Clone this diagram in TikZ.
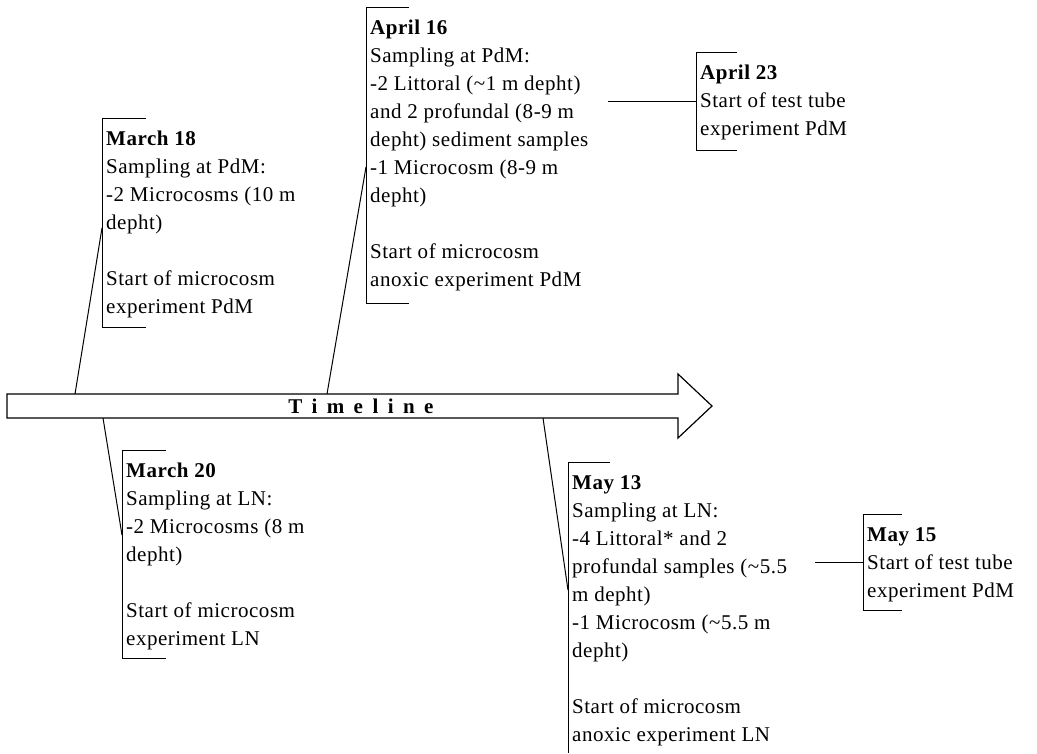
\documentclass[tikz,border=0pt]{standalone}
\usepackage{fontspec}
\setmainfont{Liberation Serif}[LetterSpace=2.5]
\newfontfamily\spacedfont[LetterSpace=45]{Liberation Serif}
\begin{document}
\begin{tikzpicture}[x=1pt,y=-1pt,
	entry/.style={anchor=north west,align=left,inner sep=0pt,font=\fontsize{21}{28}\selectfont},
	bracket/.style={black,line width=1pt}]
	\useasboundingbox (0,0) rectangle (1037,753);
	% the timeline arrow
	\draw[black,line width=1.2pt,fill=white](7,394)--(678,394)--(678,374)--(712,406)--(678,438)--(678,418)--(7,418)--cycle;
	\node[font=\spacedfont\bfseries\fontsize{21}{26}\selectfont](tl) at (361,406){Timeline};
	% March 18
	\draw[bracket](146,118)--(102,118)--(102,327)--(146,327);
	\node[entry](m18) at (106,131){\textbf{March 18}\\Sampling at PdM:\\-2 Microcosms (10 m\\depht)\\[28pt]Start of microcosm\\experiment PdM};
	\coordinate(m18a) at (75,394);
	\coordinate(m18b) at (102,228);
	\draw[bracket](m18a)--(m18b);
	% April 16
	\draw[bracket](409,7)--(366,7)--(366,303)--(409,303);
	\node[entry](a16) at (370,20){\textbf{April 16}\\Sampling at PdM:\\-2 Littoral (\textasciitilde1 m depht)\\and 2 profundal (8-9 m\\depht) sediment samples\\-1 Microcosm (8-9 m\\depht)\\[28pt]Start of microcosm\\anoxic experiment PdM};
	\coordinate(a16a) at (327,394);
	\coordinate(a16b) at (366,167);
	\draw[bracket](a16a)--(a16b);
	% April 23
	\draw[bracket](737,52)--(696,52)--(696,150)--(737,150);
	\node[entry](a23) at (700,65){\textbf{April 23}\\Start of test tube\\experiment PdM};
	\coordinate(a23a) at (608,101);
	\coordinate(a23b) at (696,101);
	\draw[bracket](a23a)--(a23b);
	% March 20
	\draw[bracket](166,450)--(122,450)--(122,658)--(166,658);
	\node[entry](m20) at (126,463){\textbf{March 20}\\Sampling at LN:\\-2 Microcosms (8 m\\depht)\\[28pt]Start of microcosm\\experiment LN};
	\coordinate(m20a) at (103,418);
	\coordinate(m20b) at (122,535);
	\draw[bracket](m20a)--(m20b);
	% May 13
	\draw[bracket](610,462)--(568,462)--(568,753);
	\node[entry](y13) at (572,475){\textbf{May 13}\\Sampling at LN:\\-4 Littoral* and 2\\profundal samples (\textasciitilde5.5\\m depht)\\-1 Microcosm (\textasciitilde5.5 m\\depht)\\[28pt]Start of microcosm\\anoxic experiment LN};
	\coordinate(y13a) at (543,418);
	\coordinate(y13b) at (568,590);
	\draw[bracket](y13a)--(y13b);
	% May 15
	\draw[bracket](902,514)--(863,514)--(863,610)--(902,610);
	\node[entry](y15) at (867,527){\textbf{May 15}\\Start of test tube\\experiment PdM};
	\coordinate(y15a) at (815,562);
	\coordinate(y15b) at (863,562);
	\draw[bracket](y15a)--(y15b);
\end{tikzpicture}
\end{document}
